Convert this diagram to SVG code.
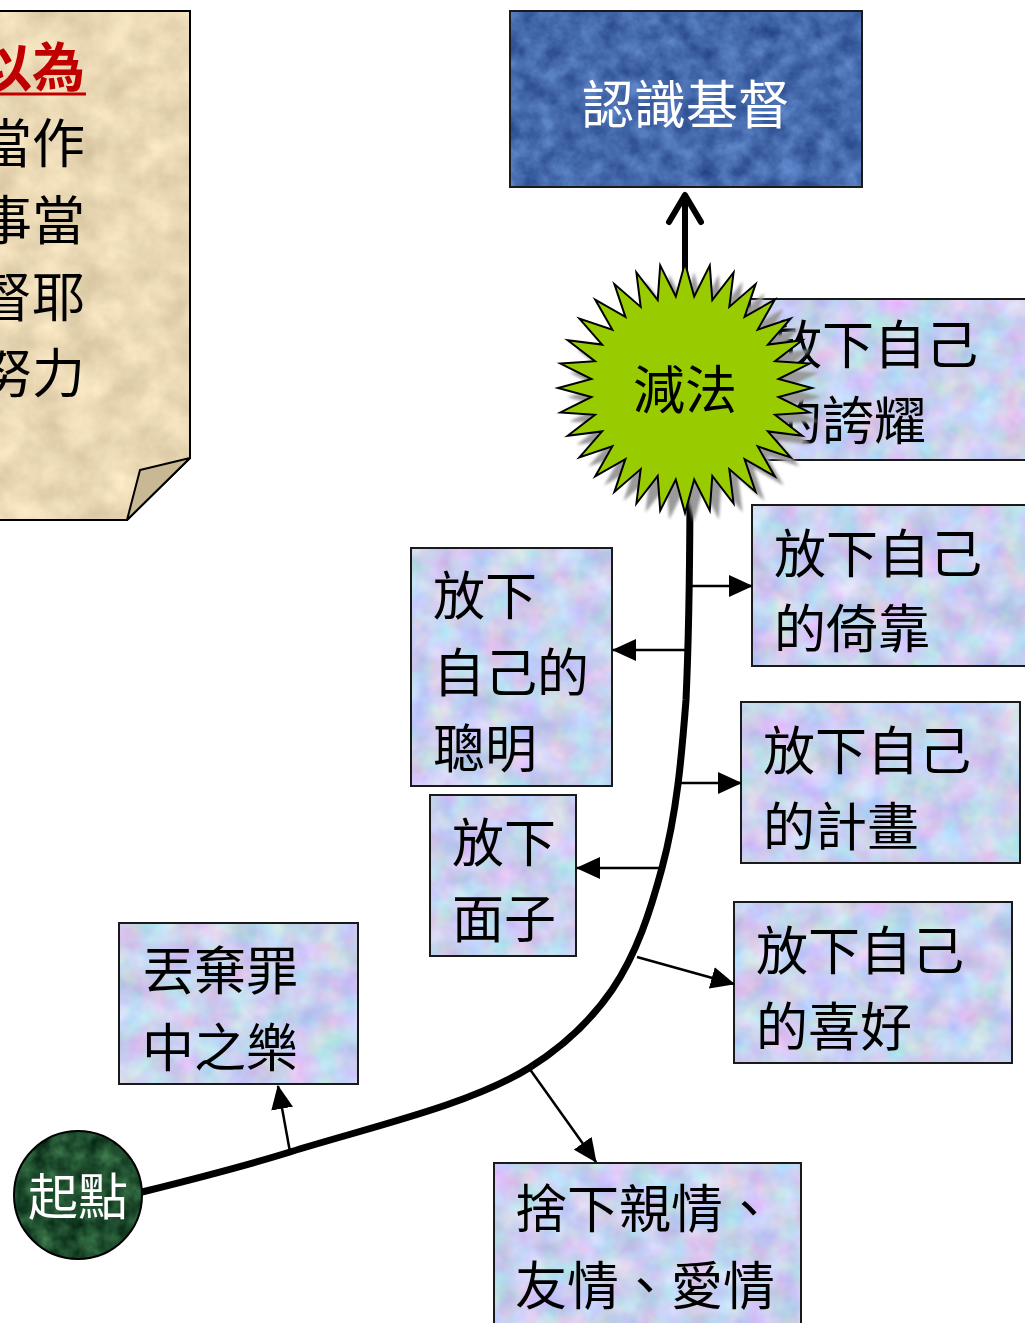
<svg xmlns="http://www.w3.org/2000/svg" width="1025" height="1323" viewBox="0 0 1025 1323">
<style>
.t{font-family:"Noto Sans CJK TC","Noto Sans CJK SC",sans-serif;font-size:52px;fill:#000}
.w{fill:#fff}
.box{stroke:#1a1a1a;stroke-width:2;fill:none}
.branch{stroke:#000;stroke-width:2.5;fill:none;marker-end:url(#tri)}
</style>
<defs>
<marker id="tri" viewBox="0 0 24 22" refX="23" refY="11" markerWidth="24" markerHeight="22" markerUnits="userSpaceOnUse" orient="auto">
<path d="M0,0 L24,11 L0,22 z" fill="#000"/>
</marker>
<filter id="pastel" x="0" y="0" width="100%" height="100%" color-interpolation-filters="sRGB">
<feTurbulence type="fractalNoise" baseFrequency="0.035" numOctaves="3" seed="4" result="n"/>
<feColorMatrix in="n" type="matrix" values="0.35 0 0 0 0.615  0 0.3 0 0 0.67  0 0 0.2 0 0.84  0 0 0 0 1" result="c"/>
<feComposite in="c" in2="SourceGraphic" operator="in"/>
</filter>
<filter id="blue" x="0" y="0" width="100%" height="100%" color-interpolation-filters="sRGB">
<feTurbulence type="fractalNoise" baseFrequency="0.05" numOctaves="4" seed="7" result="n"/>
<feColorMatrix in="n" type="matrix" values="0.3 0 0 0 0.12  0.35 0 0 0 0.24  0.35 0 0 0 0.5  0 0 0 0 1" result="c"/>
<feComposite in="c" in2="SourceGraphic" operator="in"/>
</filter>
<filter id="paper" x="0" y="0" width="100%" height="100%" color-interpolation-filters="sRGB">
<feTurbulence type="fractalNoise" baseFrequency="0.03" numOctaves="4" seed="11" result="n"/>
<feColorMatrix in="n" type="matrix" values="0.2 0 0 0 0.82  0.2 0 0 0 0.75  0.2 0 0 0 0.61  0 0 0 0 1" result="c"/>
<feComposite in="c" in2="SourceGraphic" operator="in"/>
</filter>
<filter id="green" x="0" y="0" width="100%" height="100%" color-interpolation-filters="sRGB">
<feTurbulence type="fractalNoise" baseFrequency="0.06" numOctaves="3" seed="3" result="n"/>
<feColorMatrix in="n" type="matrix" values="0.3 0 0 0 -0.03  0.45 0 0 0 0.08  0.3 0 0 0 0.03  0 0 0 0 1" result="c"/>
<feComposite in="c" in2="SourceGraphic" operator="in"/>
</filter>
<filter id="soft"><feGaussianBlur stdDeviation="1.5"/></filter>
</defs>

<!-- note paper -->
<g id="note">
<polygon points="-3,11 190,11 190,458 127,520 -3,520" fill="#eadab4"/>
<polygon points="-3,11 190,11 190,458 127,520 -3,520" fill="#fff" filter="url(#paper)"/>
<polygon points="-3,11 190,11 190,458 127,520 -3,520" fill="none" stroke="#000" stroke-width="2"/>
<polygon points="190,458 140,470 127,520" fill="#c8b894" stroke="#000" stroke-width="2" stroke-linejoin="round"/>
<text class="t" x="85" y="87" text-anchor="end" style="fill:#c00000;font-size:53px;font-weight:bold">以為</text>
<line x1="0" y1="94" x2="86" y2="94" stroke="#c00000" stroke-width="3"/>
<text class="t" x="85" y="163" text-anchor="end" style="font-size:53px">當作</text>
<text class="t" x="85" y="240" text-anchor="end" style="font-size:53px">事當</text>
<text class="t" x="85" y="317" text-anchor="end" style="font-size:53px">督耶</text>
<text class="t" x="85" y="393" text-anchor="end" style="font-size:53px">努力</text>
</g>

<!-- goal box -->
<g id="goal">
<rect x="510" y="11" width="352" height="176" fill="#4468ad"/>
<rect x="510" y="11" width="352" height="176" fill="#fff" filter="url(#blue)"/>
<rect x="510" y="11" width="352" height="176" class="box" stroke="#000"/>
<text class="t w" x="686" y="124" text-anchor="middle">認識基督</text>
</g>

<!-- boxes -->
<g id="n-boast">
<rect x="750" y="299" width="280" height="161" fill="#fff" filter="url(#pastel)"/>
<rect x="750" y="299" width="280" height="161" class="box"/>
<text class="t" x="770" y="364">放下自己</text>
<text class="t" x="770" y="440">的誇耀</text>
</g>
<g id="n-rely">
<rect x="752" y="505" width="278" height="161" fill="#fff" filter="url(#pastel)"/>
<rect x="752" y="505" width="278" height="161" class="box"/>
<text class="t" x="774" y="573">放下自己</text>
<text class="t" x="774" y="648">的倚靠</text>
</g>
<g id="n-smart">
<rect x="411" y="548" width="201" height="238" fill="#fff" filter="url(#pastel)"/>
<rect x="411" y="548" width="201" height="238" class="box"/>
<text class="t" x="433" y="615">放下</text>
<text class="t" x="433" y="692">自己的</text>
<text class="t" x="433" y="768">聰明</text>
</g>
<g id="n-plan">
<rect x="741" y="702" width="279" height="161" fill="#fff" filter="url(#pastel)"/>
<rect x="741" y="702" width="279" height="161" class="box"/>
<text class="t" x="763" y="770">放下自己</text>
<text class="t" x="763" y="846">的計畫</text>
</g>
<g id="n-face">
<rect x="430" y="795" width="146" height="161" fill="#fff" filter="url(#pastel)"/>
<rect x="430" y="795" width="146" height="161" class="box"/>
<text class="t" x="452" y="862">放下</text>
<text class="t" x="452" y="938">面子</text>
</g>
<g id="n-like">
<rect x="734" y="902" width="278" height="161" fill="#fff" filter="url(#pastel)"/>
<rect x="734" y="902" width="278" height="161" class="box"/>
<text class="t" x="756" y="970">放下自己</text>
<text class="t" x="756" y="1046">的喜好</text>
</g>
<g id="n-sin">
<rect x="119" y="923" width="239" height="161" fill="#fff" filter="url(#pastel)"/>
<rect x="119" y="923" width="239" height="161" class="box"/>
<text class="t" x="142" y="990">丟棄罪</text>
<text class="t" x="142" y="1067">中之樂</text>
</g>
<g id="n-love">
<rect x="494" y="1163" width="307" height="170" fill="#fff" filter="url(#pastel)"/>
<rect x="494" y="1163" width="307" height="170" class="box"/>
<text class="t" x="515" y="1228">捨下親情、</text>
<text class="t" x="515" y="1305">友情、愛情</text>
</g>

<!-- connectors -->
<g id="connectors">
<path d="M142,1192 C191.5,1179.7 241.3,1167.1 290,1152 C370.2,1127 469.6,1105.1 529,1068 C561.2,1047.9 590.5,1021.3 612,990 C636.9,953.7 650.5,910.5 662,868 C676.9,813 681.6,756.8 686,700 C689.5,623 690,547 690,470" fill="none" stroke="#000" stroke-width="7"/>
<line x1="685" y1="270" x2="685" y2="196" stroke="#000" stroke-width="6"/>
<polyline points="669,222 685,195 701,222" fill="none" stroke="#000" stroke-width="6" stroke-linecap="round" stroke-linejoin="round"/>
<line class="branch" x1="689" y1="586" x2="752" y2="586"/>
<line class="branch" x1="688" y1="650" x2="613" y2="650"/>
<line class="branch" x1="680" y1="783" x2="741" y2="783"/>
<line class="branch" x1="663" y1="868" x2="577" y2="868"/>
<line class="branch" x1="637" y1="957" x2="734" y2="984"/>
<line class="branch" x1="529" y1="1068" x2="596" y2="1162"/>
<line class="branch" x1="290" y1="1152" x2="278" y2="1086"/>
</g>

<!-- starburst -->
<g id="subtract">
<polygon transform="translate(9,9)" fill="#9a9a9a" filter="url(#soft)" points="685,263 694.2,296.4 709.8,265.4 712.3,300 733.6,272.5 729.3,306.9 755.6,284.1 744.6,316.9 774.8,299.6 757.7,329.6 790.6,318.6 767.9,344.6 802.3,340.2 775,361.3 809.6,363.6 778.5,379 812,388 778.5,397 809.6,412.4 775,414.7 802.3,435.8 767.9,431.4 790.6,457.4 757.7,446.4 774.8,476.4 744.6,459.1 755.6,491.9 729.3,469.1 733.6,503.5 712.3,476 709.8,510.6 694.2,479.6 685,513 675.8,479.6 660.2,510.6 657.7,476 636.4,503.5 640.7,469.1 614.4,491.9 625.4,459.1 595.2,476.4 612.3,446.4 579.4,457.4 602.1,431.4 567.7,435.8 595,414.7 560.4,412.4 591.5,397 558,388 591.5,379 560.4,363.6 595,361.3 567.7,340.2 602.1,344.6 579.4,318.6 612.3,329.6 595.2,299.6 625.4,316.9 614.4,284.1 640.7,306.9 636.4,272.5 657.7,300 660.2,265.4 675.8,296.4"/>
<polygon fill="#99cc00" stroke="#000" stroke-width="2" stroke-linejoin="miter" points="685,263 694.2,296.4 709.8,265.4 712.3,300 733.6,272.5 729.3,306.9 755.6,284.1 744.6,316.9 774.8,299.6 757.7,329.6 790.6,318.6 767.9,344.6 802.3,340.2 775,361.3 809.6,363.6 778.5,379 812,388 778.5,397 809.6,412.4 775,414.7 802.3,435.8 767.9,431.4 790.6,457.4 757.7,446.4 774.8,476.4 744.6,459.1 755.6,491.9 729.3,469.1 733.6,503.5 712.3,476 709.8,510.6 694.2,479.6 685,513 675.8,479.6 660.2,510.6 657.7,476 636.4,503.5 640.7,469.1 614.4,491.9 625.4,459.1 595.2,476.4 612.3,446.4 579.4,457.4 602.1,431.4 567.7,435.8 595,414.7 560.4,412.4 591.5,397 558,388 591.5,379 560.4,363.6 595,361.3 567.7,340.2 602.1,344.6 579.4,318.6 612.3,329.6 595.2,299.6 625.4,316.9 614.4,284.1 640.7,306.9 636.4,272.5 657.7,300 660.2,265.4 675.8,296.4"/>
<text class="t" x="685" y="409" text-anchor="middle">減法</text>
</g>

<!-- start -->
<g id="start">
<circle cx="78" cy="1195" r="64" fill="#1f4f2d"/>
<circle cx="78" cy="1195" r="64" fill="#fff" filter="url(#green)"/>
<circle cx="78" cy="1195" r="64" fill="none" stroke="#000" stroke-width="2"/>
<text class="t w" x="78" y="1215" text-anchor="middle" style="font-size:50px">起點</text>
</g>
</svg>
